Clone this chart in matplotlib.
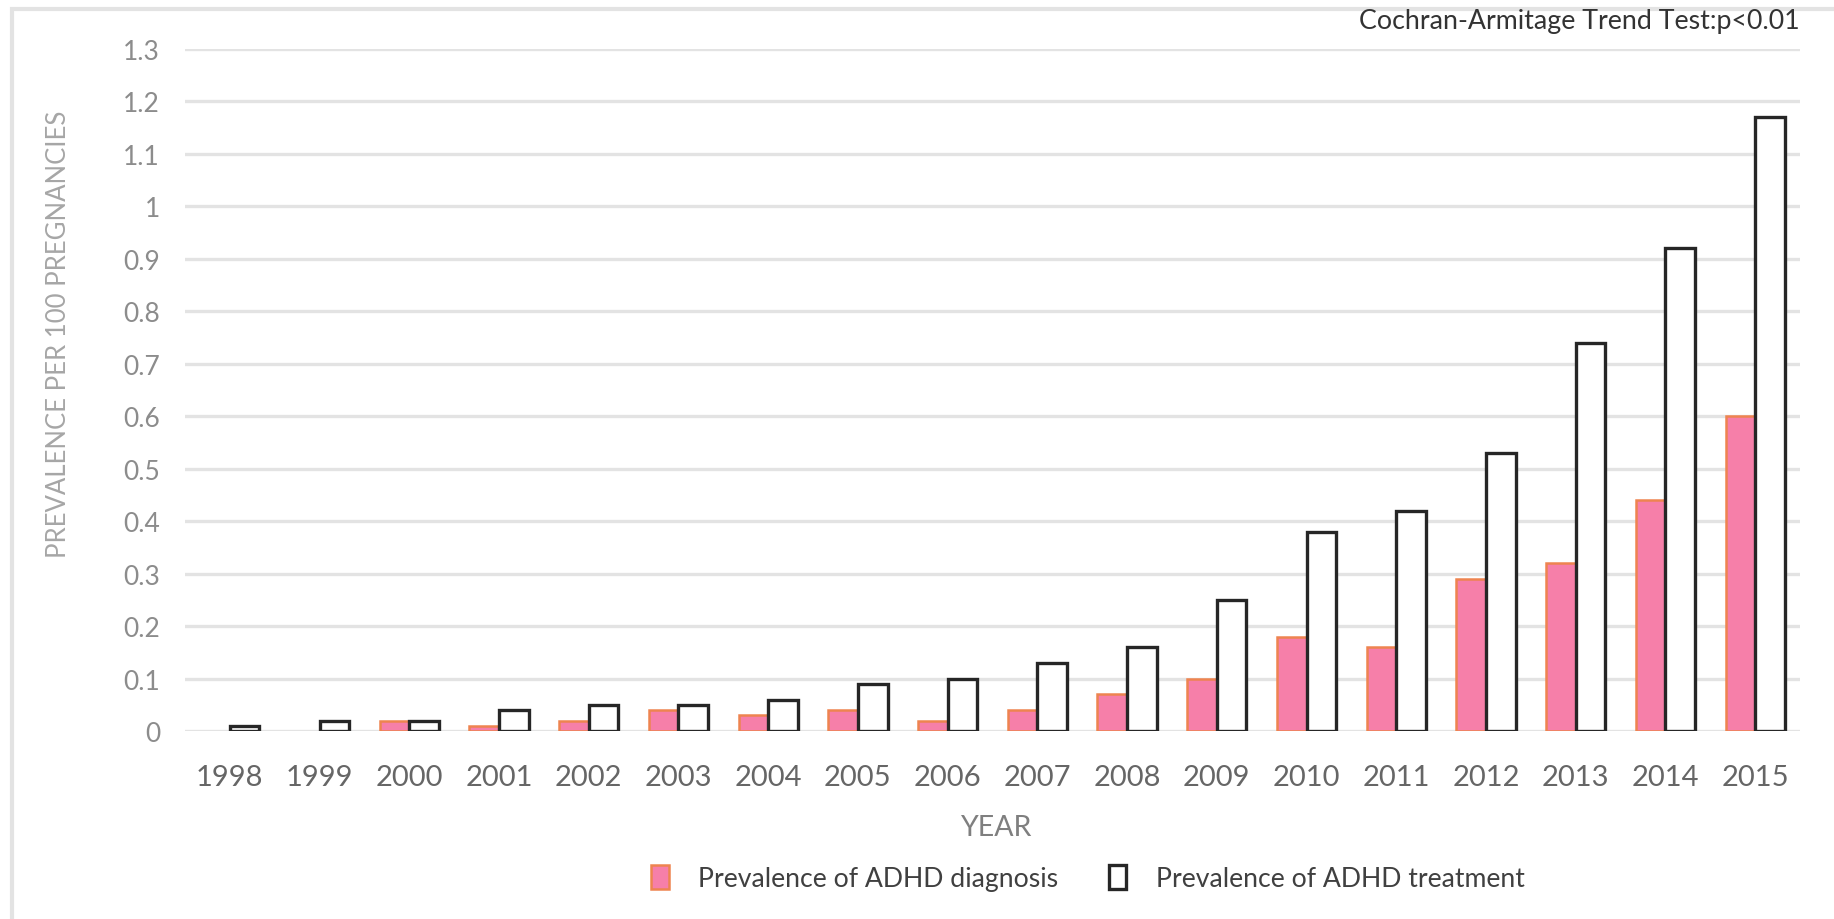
import numpy as np
import matplotlib.pyplot as plt
from matplotlib.patches import Patch, Rectangle

plt.rcParams['font.family'] = ['Lato', 'DejaVu Sans']

# data (prevalence per 100 pregnancies)
years = [1998, 1999, 2000, 2001, 2002, 2003, 2004, 2005, 2006,
         2007, 2008, 2009, 2010, 2011, 2012, 2013, 2014, 2015]
diagnosis = [0.0, 0.0, 0.02, 0.01, 0.02, 0.04, 0.03, 0.04, 0.02,
             0.04, 0.07, 0.10, 0.18, 0.16, 0.29, 0.32, 0.44, 0.60]
treatment = [0.01, 0.02, 0.02, 0.04, 0.05, 0.05, 0.06, 0.09, 0.10,
             0.13, 0.16, 0.25, 0.38, 0.42, 0.53, 0.74, 0.92, 1.17]
y_ticks = [0, 0.1, 0.2, 0.3, 0.4, 0.5, 0.6, 0.7, 0.8, 0.9, 1.0, 1.1, 1.2, 1.3]
y_tick_labels = ['0', '0.1', '0.2', '0.3', '0.4', '0.5', '0.6', '0.7',
                 '0.8', '0.9', '1', '1.1', '1.2', '1.3']

W, H = 1834, 920
fig = plt.figure(figsize=(W / 100, H / 100), dpi=100)
ax = fig.add_axes([185 / W, 1 - 732 / H, (1800 - 185) / W, (732 - 50) / H])

# outer frame (only top and left visible in the crop)
fig.patches.append(Rectangle((12 / W, -0.1), 1.2, 1 - 10 / H + 0.1,
                             transform=fig.transFigure, fill=False,
                             edgecolor='#e3e3e3', linewidth=3))

x = np.arange(len(years))
bw = 0.33
# no edge on empty bars so they leave no line on the baseline
diag_edges = ['#ee8450' if v > 0 else 'none' for v in diagnosis]
ax.bar(x - bw / 2, diagnosis, bw, color='#f67fa9', edgecolor=diag_edges,
       linewidth=1.8, zorder=3)
ax.bar(x + bw / 2, treatment, bw, color='white', edgecolor='#262626',
       linewidth=2.4, zorder=3)

ax.set_xlim(-0.5, len(years) - 0.5)
ax.set_ylim(0, 1.3)
ax.set_yticks(y_ticks)
ax.set_yticklabels(y_tick_labels)
ax.set_xticks(x)
ax.set_xticklabels([str(y) for y in years])
ax.yaxis.grid(True, color='#e3e3e3', linewidth=2.4, zorder=0)
ax.set_axisbelow(True)
for s in ax.spines.values():
    s.set_visible(False)
ax.tick_params(axis='x', length=0, pad=24, labelsize=21, labelcolor='#666666')
ax.tick_params(axis='y', length=0, pad=18, labelsize=19, labelcolor='#8c8c8c')

fig.text(58 / W, 1 - 334 / H, 'PREVALENCE PER 100 PREGNANCIES', rotation=90,
         ha='center', va='center', fontsize=18.5, color='#a6a6a6')
fig.text(997 / W, 1 - 828 / H, 'YEAR', ha='center', va='center',
         fontsize=20.5, color='#7f7f7f')
fig.text(1800 / W, 1 - 22 / H, 'Cochran-Armitage Trend Test:p<0.01',
         ha='right', va='center', fontsize=19.3, color='#333333')

handles = [Patch(facecolor='#f67fa9', edgecolor='#ee8450', linewidth=1.8),
           Patch(facecolor='white', edgecolor='#262626', linewidth=2.4)]
fig.legend(handles, ['Prevalence of ADHD diagnosis', 'Prevalence of ADHD treatment'],
           ncol=2, loc='center', bbox_to_anchor=(1088 / W, 1 - 879 / H),
           frameon=False, fontsize=19.2, labelcolor='#404040',
           handlelength=0.65, handleheight=1.0, handletextpad=1.1,
           columnspacing=1.9)

fig.savefig('out.png', dpi=100)
